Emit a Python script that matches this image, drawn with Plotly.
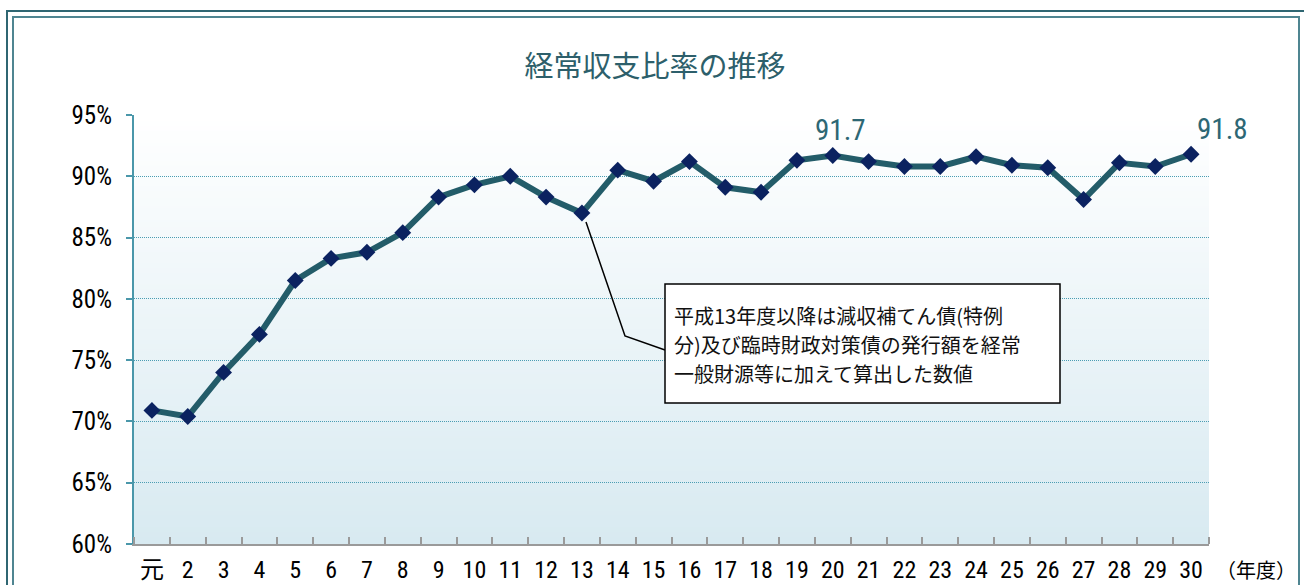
import base64
import struct
import zlib
import plotly.graph_objects as go

years = ["元", "2", "3", "4", "5", "6", "7", "8", "9", "10", "11", "12", "13", "14", "15",
         "16", "17", "18", "19", "20", "21", "22", "23", "24", "25", "26", "27", "28", "29", "30"]
ratio = [70.9, 70.4, 74.0, 77.1, 81.5, 83.3, 83.8, 85.4, 88.3, 89.3, 90.0, 88.3, 87.0, 90.5, 89.6,
         91.2, 89.1, 88.7, 91.3, 91.7, 91.2, 90.8, 90.8, 91.6, 90.9, 90.7, 88.1, 91.1, 90.8, 91.8]
y_ticks = [60, 65, 70, 75, 80, 85, 90, 95]
y_tick_text = ["60%", "65%", "70%", "75%", "80%", "85%", "90%", "95%"]
labelled = {19: "91.7", 29: "91.8"}
title_text = "経常収支比率の推移"
note_lines = ["平成13年度以降は減収補てん債(特例",
              "分)及び臨時財政対策債の発行額を経常",
              "一般財源等に加えて算出した数値"]

W, H = 1305, 585
L, R, T, B = 134, 1209, 115, 544
PW, PH = R - L, B - T


def px(x):
    return (x - L) / PW


def py(y):
    return (B - y) / PH


def gradient_png(top, bottom, n=256):
    rows = b""
    for i in range(n):
        f = i / (n - 1)
        c = bytes(round(top[k] + (bottom[k] - top[k]) * f) for k in range(3))
        rows += b"\x00" + c

    def chunk(tag, data):
        return struct.pack(">I", len(data)) + tag + data + struct.pack(">I", zlib.crc32(tag + data) & 0xffffffff)

    png = b"\x89PNG\r\n\x1a\n" + chunk(b"IHDR", struct.pack(">IIBBBBB", 1, n, 8, 2, 0, 0, 0)) \
        + chunk(b"IDAT", zlib.compress(rows)) + chunk(b"IEND", b"")
    return "data:image/png;base64," + base64.b64encode(png).decode()


NUM = "Roboto Condensed, Noto Sans CJK JP, sans-serif"
JP = "Noto Sans CJK JP, sans-serif"
xs = list(range(len(years)))

fig = go.Figure()
fig.add_trace(go.Scatter(
    x=xs, y=ratio, mode="lines+markers",
    line=dict(color="#235c69", width=6),
    marker=dict(symbol="diamond", size=13, color="#0b2260", line=dict(width=0)),
    showlegend=False))

for i, t in labelled.items():
    fig.add_annotation(x=i, y=ratio[i], text=t, showarrow=False, yshift=25,
                       xshift=(8 if i == 19 else 31),
                       font=dict(family=NUM, size=29, color="#2d6774"))

fig.add_layout_image(source=gradient_png((255, 255, 255), (216, 234, 241)),
                     xref="paper", yref="paper", x=0, y=1, sizex=1, sizey=1,
                     xanchor="left", yanchor="top", sizing="stretch", layer="below")

fig.update_layout(
    width=W, height=H,
    margin=dict(l=L, r=W - R, t=T, b=H - B, autoexpand=False),
    paper_bgcolor="white", plot_bgcolor="rgba(0,0,0,0)",
    title=dict(text=title_text, x=0.502, xanchor="center", y=1 - 67 / H, yanchor="middle",
               font=dict(family=JP, size=29, color="#2d5f6b")),
    showlegend=False,
)
fig.update_xaxes(
    range=[-0.5, len(years) - 0.5], tickmode="array", tickvals=xs, ticktext=years,
    ticks="", showgrid=False, zeroline=False, ticklabelstandoff=3, automargin=False,
    showline=True, linecolor="#9a9a9a", linewidth=2,
    tickfont=dict(family=NUM, size=24, color="black"),
    minor=dict(ticks="inside", tick0=-0.5, dtick=1, ticklen=7, tickcolor="#9a9a9a",
               tickwidth=2, showgrid=False),
)
fig.update_yaxes(
    range=[y_ticks[0], y_ticks[-1]], tickmode="array", tickvals=y_ticks, ticktext=y_tick_text,
    ticks="outside", ticklen=6, tickcolor="#4a97aa", tickwidth=2, automargin=False,
    showline=True, linecolor="#4a97aa", linewidth=2, zeroline=False,
    showgrid=True, gridcolor="#4a9db3", griddash="1px,1px", gridwidth=1,
    tickfont=dict(family=NUM, size=25, color="black"), ticklabelstandoff=9,
)

fig.add_annotation(xref="paper", yref="paper", x=px(1256), y=py(569), text="（年度）",
                   showarrow=False, xanchor="center", yanchor="middle",
                   font=dict(family=JP, size=20, color="black"))

fig.add_shape(type="path", xref="paper", yref="paper",
              path=f"M {px(586)},{py(222)} L {px(625)},{py(336)} L {px(665)},{py(350)}",
              line=dict(color="black", width=1.5))
fig.add_shape(type="rect", xref="paper", yref="paper",
              x0=px(665), x1=px(1060), y0=py(284), y1=py(403),
              fillcolor="white", line=dict(color="black", width=1.5))
for k, line in enumerate(note_lines):
    fig.add_annotation(xref="paper", yref="paper", x=px(672), y=py(315 + 29 * k), text=line,
                       showarrow=False, xanchor="left", yanchor="middle", align="left",
                       font=dict(family=JP, size=20, color="#111111"))

# outer frame
fig.add_shape(type="path", xref="paper", yref="paper", layer="above",
              path=f"M {px(7)},{py(600)} L {px(7)},{py(11)} L {px(1304)},{py(11)}",
              line=dict(color="#2f6672", width=2))
fig.add_shape(type="path", xref="paper", yref="paper", layer="above",
              path=f"M {px(13)},{py(600)} L {px(13)},{py(17)} L {px(1299)},{py(17)} L {px(1299)},{py(600)}",
              line=dict(color="#4f8591", width=2))

fig.write_html("out.html", config={"displayModeBar": False},
               post_script="document.body.style.margin='0';")
